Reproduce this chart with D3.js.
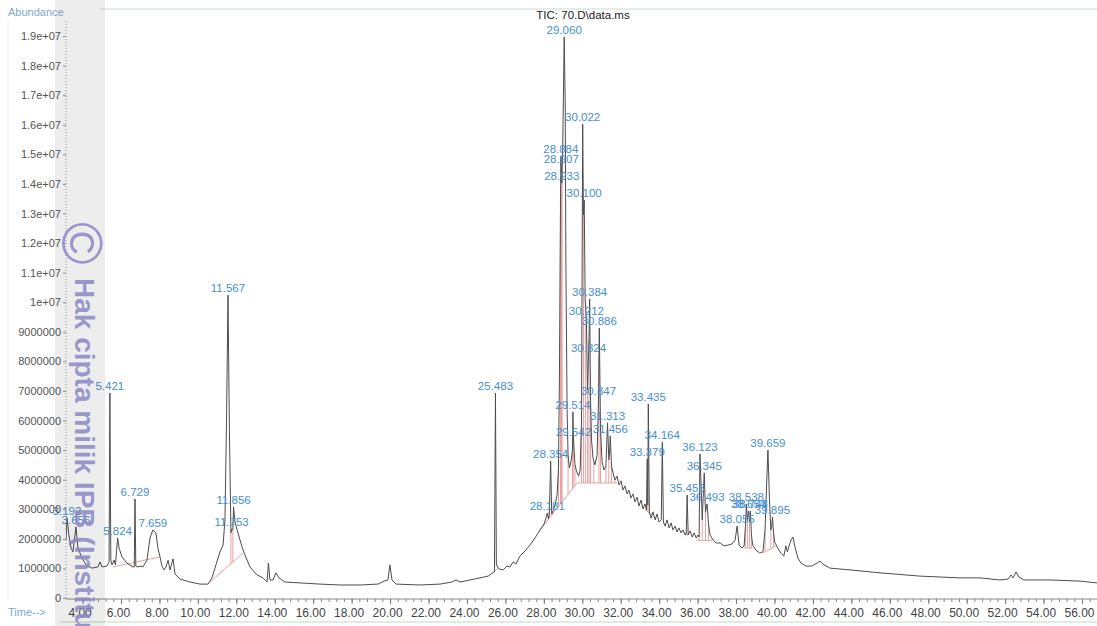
<!DOCTYPE html>
<html>
<head>
<meta charset="utf-8">
<script src="https://cdn.jsdelivr.net/npm/d3@7"></script>
<style>
  html, body { margin: 0; padding: 0; background: #fff; }
  svg { display: block; font-family: "Liberation Sans", Arial, sans-serif; }
</style>
</head>
<body>
<svg id="chart"></svg>
<script>
// chromatogram trace, time (min) / abundance (millions of counts)
const traceTime = [3.14, 3.29, 3.40, 3.50, 3.76, 3.97, 4.18, 4.49, 4.80, 4.91, 5.01, 5.27, 5.38, 5.47, 5.53, 5.64, 5.71,
  5.90, 6.05, 6.31, 6.62, 6.69, 6.77, 6.88, 7.04, 7.14, 7.35, 7.51, 7.82, 7.92, 8.03, 8.13, 8.24, 8.34, 8.45, 8.55,
  8.71, 8.81, 9.07, 9.59, 10.11, 10.53, 10.73, 10.94, 11.15, 11.31, 11.41, 11.49, 11.64, 11.72, 11.82, 11.93, 12.04,
  12.30, 12.45, 12.71, 13.08, 13.39, 13.60, 13.67, 13.75, 13.91, 14.06, 14.22, 14.53, 15.31, 16.35, 17.39, 18.44,
  19.37, 19.68, 19.89, 19.99, 20.10, 20.31, 21.56, 22.60, 23.22, 23.43, 23.64, 24.16, 24.68, 25.10, 25.43, 25.53,
  25.67, 25.88, 26.08, 26.24, 26.40, 26.55, 26.76, 27.02, 27.28, 27.54, 27.80, 28.01, 28.11, 28.24, 28.29, 28.41,
  28.50, 28.58, 28.69, 28.76, 28.81, 28.85, 28.98, 29.11, 29.15, 29.21, 29.26, 29.33, 29.41, 29.49, 29.62, 29.71,
  29.81, 29.89, 29.96, 30.06, 30.15, 30.27, 30.35, 30.43, 30.48, 30.56, 30.66, 30.77, 30.95, 31.03, 31.13, 31.23,
  31.38, 31.42, 31.52, 31.60, 31.70, 31.81, 31.91, 32.02, 32.12, 32.22, 32.33, 32.43, 32.53, 32.64, 32.74, 32.85,
  32.95, 33.06, 33.16, 33.26, 33.34, 33.41, 33.49, 33.58, 33.68, 33.79, 33.89, 33.99, 34.11, 34.22, 34.31, 34.41,
  34.52, 34.62, 34.72, 34.83, 34.93, 35.03, 35.14, 35.24, 35.35, 35.41, 35.51, 35.61, 35.72, 35.82, 35.93, 36.02,
  36.08, 36.24, 36.41, 36.57, 36.65, 36.81, 36.96, 37.17, 37.38, 37.59, 37.80, 37.95, 38.16, 38.31, 38.42, 38.48,
  38.59, 38.70, 38.80, 38.87, 39.03, 39.24, 39.40, 39.51, 39.58, 39.74, 39.81, 39.85, 39.95, 40.01, 40.17, 40.33,
  40.49, 40.59, 40.67, 40.76, 40.86, 40.96, 41.07, 41.22, 41.38, 41.64, 41.95, 42.21, 42.37, 42.58, 42.89, 43.93,
  45.49, 47.57, 49.65, 50.69, 51.73, 52.15, 52.31, 52.41, 52.57, 52.72, 52.98, 54.34, 55.90, 56.78];
const traceAbund = [1.96, 2.13, 1.69, 1.56, 1.69, 1.35, 1.12, 1.01, 1.05, 1.22, 1.05, 1.08, 1.22, 1.28, 1.12, 1.28, 1.12,
  1.69, 1.39, 1.18, 1.05, 1.05, 1.08, 1.05, 1.08, 1.05, 1.28, 2.03, 2.20, 1.69, 1.39, 1.08, 0.95, 1.05, 1.28, 0.95,
  1.32, 0.81, 0.64, 0.54, 0.47, 0.47, 0.68, 1.12, 1.56, 1.79, 2.64, 6.02, 5.68, 2.20, 2.30, 2.57, 2.30,
  1.72, 1.45, 1.05, 0.78, 0.68, 0.54, 1.18, 0.61, 0.61, 0.85, 0.68, 0.54, 0.51, 0.47, 0.44, 0.44,
  0.47, 0.57, 0.61, 1.12, 0.61, 0.47, 0.44, 0.47, 0.54, 0.61, 0.54, 0.61, 0.68, 0.74, 0.88, 1.12,
  0.98, 0.95, 1.08, 1.05, 1.22, 1.15, 1.42, 1.59, 1.79, 2.03, 2.30, 2.50, 2.70, 2.67, 2.91, 2.84,
  2.98, 3.14, 3.48, 4.33, 7.37, 11.76, 15.15, 16.84, 11.09, 6.36, 4.83, 4.40, 4.60, 5.00, 4.50, 4.26,
  4.12, 4.33, 6.02, 12.95, 10.07, 7.03, 8.72, 6.69, 5.34, 4.73, 4.50, 4.83, 5.68, 4.60, 4.33, 4.46,
  4.67, 4.94, 4.46, 4.23, 3.99, 4.12, 3.82, 3.96, 3.65, 3.79, 3.52, 3.65, 3.38, 3.52, 3.25, 3.41,
  3.11, 3.31, 3.01, 3.18, 2.98, 3.14, 2.91, 2.70, 2.91, 2.64, 2.84, 2.57, 2.64, 2.57, 2.43, 2.64,
  2.37, 2.54, 2.30, 2.43, 2.23, 2.37, 2.20, 2.30, 2.13, 2.20, 2.13, 2.27, 2.06, 2.20, 2.03, 2.13,
  2.06, 2.64, 2.90, 2.47, 2.13, 1.96, 1.86, 1.86, 1.76, 1.79, 1.83, 1.96, 1.79, 1.69, 1.76, 2.30,
  2.64, 2.57, 2.13, 1.79, 1.62, 1.52, 1.56, 2.30, 3.65, 3.31, 2.30, 2.37, 2.23, 1.89, 1.69, 1.52,
  1.42, 1.76, 1.56, 1.76, 1.96, 2.06, 1.72, 1.35, 1.18, 1.08, 1.08, 1.18, 1.25, 1.12, 1.01, 0.95,
  0.85, 0.74, 0.68, 0.68, 0.61, 0.64, 0.78, 0.68, 0.88, 0.71, 0.61, 0.61, 0.57, 0.51];

// integrated peaks: retention time and apex abundance (millions)
const peakTime = [3.192, 3.656, 5.421, 5.824, 6.729, 7.659, 11.567, 11.753, 11.856, 25.483, 28.181, 28.354,
  28.884, 28.907, 28.933, 29.060, 29.514, 29.542, 30.022, 30.100, 30.212, 30.324, 30.384, 30.847, 30.886,
  31.313, 31.456, 33.379, 33.435, 34.164, 35.456, 36.123, 36.345, 36.493, 38.055, 38.538, 38.654, 38.748,
  39.659, 39.895];
const peakAbund = [2.70, 2.40, 6.93, 2.03, 3.35, 2.30, 10.24, 2.33, 3.08, 6.93, 2.87, 4.63,
  14.94, 14.60, 14.03, 18.97, 6.29, 5.38, 16.02, 13.45, 9.47, 8.21, 10.11, 6.76, 9.13,
  5.92, 5.48, 4.70, 6.56, 5.27, 3.48, 4.87, 4.23, 3.18, 2.43, 3.18, 2.94, 2.94,
  5.00, 2.74];

// integration baselines [time, abundance] and peak boundary drop lines
const baseFrom = [[5.58, 1.05], [10.63, 0.54], [25.35, 0.85], [27.80, 2.30], [29.73, 3.89], [33.26, 2.98],
  [35.35, 2.13], [35.93, 1.96], [38.42, 1.69], [39.40, 1.52]];
const baseTo = [[8.03, 1.39], [12.35, 1.52], [25.60, 1.01], [29.73, 3.89], [31.81, 3.89], [33.63, 2.81],
  [35.51, 2.13], [36.76, 1.93], [38.87, 1.69], [40.06, 1.76]];
const dropTime = [11.72, 11.82, 28.24, 28.29, 28.41, 28.76, 28.87, 28.92, 28.95, 29.26, 29.49, 29.53, 29.62,
  29.96, 30.06, 30.16, 30.27, 30.35, 30.43, 30.60, 30.87, 30.95, 31.23, 31.38, 31.52, 31.70, 33.34, 33.41,
  33.49, 35.41, 35.51, 36.08, 36.24, 36.41, 36.57, 38.48, 38.59, 38.70, 38.80, 39.51, 39.81, 39.95];

const xTicks = d3.range(4, 57, 2);
const xMinorTicks = d3.range(3.6, 56.9, 0.4);
const yTicks = d3.range(0, 19.5e6, 1e6);

const width = 1097, height = 626;
const svg = d3.select("#chart").attr("width", width).attr("height", height);

const x = d3.scaleLinear().domain([6, 56]).range([121, 1082]);
const y = d3.scaleLinear().domain([0, 19e6]).range([598, 36]);
const plotLeft = 66, plotRight = width;

// merge the base trace with the peak apexes
const points = traceTime.map((t, i) => [t, traceAbund[i]])
  .concat(peakTime.map((t, i) => [t, peakAbund[i]]))
  .sort((a, b) => a[0] - b[0]);

const bisect = d3.bisector((d) => d[0]).left;
function traceAt(t) {
  const i = bisect(points, t);
  if (i <= 0) return points[0][1];
  if (i >= points.length) return points[points.length - 1][1];
  const a = points[i - 1], b = points[i];
  return a[1] + (b[1] - a[1]) * (t - a[0]) / (b[0] - a[0]);
}
function baseAt(t) {
  for (let i = 0; i < baseFrom.length; i++) {
    const a = baseFrom[i], b = baseTo[i];
    if (t >= a[0] && t <= b[0]) return a[1] + (b[1] - a[1]) * (t - a[0]) / (b[0] - a[0]);
  }
  return null;
}

// scan artefacts: faint frame lines
svg.append("line").attr("x1", 100).attr("x2", width).attr("y1", 9).attr("y2", 9)
  .attr("stroke", "#dde8dd").attr("stroke-width", 1.5);
svg.append("line").attr("x1", 60).attr("x2", width).attr("y1", 622).attr("y2", 622)
  .attr("stroke", "#d6e6d6").attr("stroke-width", 1.5);
svg.append("line").attr("x1", 8).attr("x2", 8).attr("y1", 22).attr("y2", 600)
  .attr("stroke", "#ececec");

svg.append("clipPath").attr("id", "plot")
  .append("rect").attr("x", plotLeft).attr("y", 0).attr("width", plotRight - plotLeft).attr("height", 599);

const plot = svg.append("g").attr("clip-path", "url(#plot)");

// integration marks
const pink = "#e8a2a2";
plot.append("g")
  .selectAll("line")
  .data(baseFrom.map((d, i) => [d, baseTo[i]]))
  .join("line")
  .attr("x1", (d) => x(d[0][0]))
  .attr("y1", (d) => y(d[0][1] * 1e6))
  .attr("x2", (d) => x(d[1][0]))
  .attr("y2", (d) => y(d[1][1] * 1e6))
  .attr("stroke", pink)
  .attr("stroke-width", 1);

plot.append("g")
  .selectAll("line")
  .data(dropTime.filter((t) => baseAt(t) !== null))
  .join("line")
  .attr("x1", (d) => x(d))
  .attr("x2", (d) => x(d))
  .attr("y1", (d) => y(baseAt(d) * 1e6))
  .attr("y2", (d) => y(traceAt(d) * 1e6))
  .attr("stroke", pink)
  .attr("stroke-width", 1);

// trace
const line = d3.line()
  .x((d) => x(d[0]))
  .y((d) => y(d[1] * 1e6));

plot.append("path")
  .datum(points)
  .attr("d", line)
  .attr("fill", "none")
  .attr("stroke", "#4d4d4d")
  .attr("stroke-width", 1)
  .attr("stroke-linejoin", "round");

// peak labels (not clipped, like the instrument printout)
svg.append("g")
  .selectAll("text")
  .data(peakTime.map((t, i) => [t, peakAbund[i]]))
  .join("text")
  .attr("x", (d) => x(d[0]))
  .attr("y", (d) => y(d[1] * 1e6) - 3)
  .attr("text-anchor", "middle")
  .attr("font-size", "11.5px")
  .attr("fill", "#4590d2")
  .text((d) => d[0].toFixed(3));

// x axis
const xAxis = svg.append("g").attr("transform", "translate(0,599)");
xAxis.append("line").attr("x1", plotLeft).attr("x2", plotRight)
  .attr("stroke", "#888");
xAxis.append("g")
  .call(d3.axisBottom(x).tickValues(xMinorTicks).tickSize(3).tickFormat(""))
  .call((g) => g.select(".domain").remove())
  .call((g) => g.selectAll("line").attr("stroke", "#888"));
xAxis.append("g")
  .call(d3.axisBottom(x).tickValues(xTicks).tickSize(5).tickFormat(d3.format(".2f")))
  .call((g) => g.select(".domain").remove())
  .call((g) => g.selectAll("line").attr("stroke", "#777"))
  .call((g) => g.selectAll("text")
    .attr("dx", -3)
    .attr("y", 9)
    .attr("font-size", "12px")
    .attr("font-family", "Liberation Sans, Arial, sans-serif")
    .attr("fill", "#444"));

// y axis
const yFormat = (v) => (v < 1e7 ? String(v) : +(v / 1e7).toFixed(1) + "e+07");
const yAxis = svg.append("g").attr("transform", `translate(${plotLeft},0)`);
yAxis.append("line").attr("y1", y(0)).attr("y2", y(19.55e6))
  .attr("stroke", "#999").attr("stroke-dasharray", "1,2");
yAxis.append("g")
  .call(d3.axisLeft(y).tickValues(yTicks).tickSize(3).tickFormat(yFormat))
  .call((g) => g.select(".domain").remove())
  .call((g) => g.selectAll("line").attr("stroke", "#999"))
  .call((g) => g.selectAll("text")
    .attr("dx", 1)
    .attr("font-size", "11px")
    .attr("font-family", "Liberation Sans, Arial, sans-serif")
    .attr("fill", "#555"));

// captions
svg.append("text").attr("x", 8).attr("y", 16)
  .attr("font-size", "11px").attr("fill", "#7aaad8").text("Abundance");
svg.append("text").attr("x", 8).attr("y", 616)
  .attr("font-size", "11px").attr("fill", "#7aaad8").text("Time-->");
svg.append("text").attr("x", 583).attr("y", 19)
  .attr("text-anchor", "middle").attr("font-size", "11.5px").attr("fill", "#222")
  .text("TIC: 70.D\\data.ms");

// watermark band and text
svg.append("rect").attr("x", 55).attr("y", 0).attr("width", 50).attr("height", height)
  .attr("fill", "#000").attr("fill-opacity", 0.07);
svg.append("text")
  .attr("transform", "translate(62,222) rotate(90)")
  .attr("font-size", "58px")
  .attr("fill", "#8a86c4")
  .attr("fill-opacity", 0.85)
  .text("\u00a9");
svg.append("text")
  .attr("transform", "translate(75,278) rotate(90)")
  .attr("font-size", "28px")
  .attr("font-weight", "bold")
  .attr("fill", "#8a86c4")
  .attr("fill-opacity", 0.85)
  .text("Hak cipta milik IPB (Institut Pertanian Bogor)");
</script>
</body>
</html>
